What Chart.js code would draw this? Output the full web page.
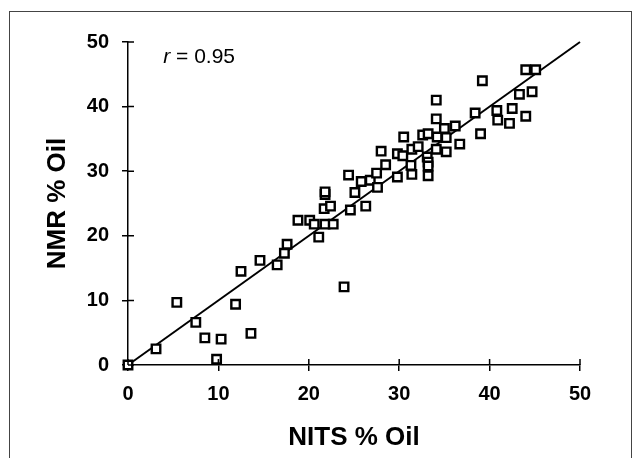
<!DOCTYPE html>
<html>
<head>
<meta charset="utf-8">
<script src="https://cdn.jsdelivr.net/npm/chart.js@4"></script>
<style>
    body { margin: 0; background: #fff; }
    #wrap { position: relative; width: 639px; height: 458px; overflow: hidden; }
    #frame { position: absolute; left: 9px; top: 11px; width: 621px; height: 460px; border: 1px solid #444; }
    canvas { position: absolute; left: 0; top: 0; }
</style>
</head>
<body>
<div id="wrap">
    <div id="frame"></div>
    <canvas id="chart" width="639" height="458"></canvas>
</div>
<script>
// NITS vs NMR oil content (%)
const nitsOil = [
    0, 3.1, 5.4, 7.5, 8.5, 9.8, 10.3, 11.9, 12.5, 13.6,
    14.6, 16.5, 17.3, 17.6, 18.8, 20.1, 20.6, 21.1, 21.8, 21.7,
    21.8, 21.8, 22.4, 22.7, 23.9, 24.4, 24.6, 25.1, 25.8, 26.3,
    26.8, 27.5, 27.6, 28.0, 28.5, 29.8, 29.8, 30.4, 30.5, 31.3,
    31.4, 31.4, 32.1, 32.6, 33.2, 33.1, 33.2, 33.2, 33.2, 34.1,
    34.1, 34.2, 34.1, 35.0, 35.2, 35.2, 36.2, 36.7, 38.4, 39.0,
    39.2, 40.8, 40.9, 42.2, 42.5, 43.3, 44.0, 44.0, 44.7, 45.1
];
const nmrOil = [
    0, 2.5, 9.7, 6.6, 4.2, 0.9, 4.0, 9.4, 14.5, 4.9,
    16.2, 15.5, 17.3, 18.7, 22.4, 22.4, 21.8, 19.8, 21.8, 24.2,
    26.4, 26.8, 24.6, 21.8, 12.1, 29.4, 24.0, 26.7, 28.4, 24.6,
    28.6, 29.7, 27.5, 33.1, 31.0, 29.1, 32.7, 32.4, 35.3, 30.9,
    29.5, 33.4, 33.8, 35.6, 35.8, 32.2, 31.4, 30.8, 29.3, 41.0,
    38.1, 35.3, 33.4, 36.6, 35.2, 33.0, 37.0, 34.2, 39.0, 35.8,
    44.0, 39.4, 37.9, 37.4, 39.7, 41.9, 38.5, 45.7, 42.3, 45.7
];
// fitted line end points
const fitX = [0, 50];
const fitY = [0, 50];
const axisTicks = [0, 10, 20, 30, 40, 50];
const rLabel = 'r = 0.95';

const fontFamily = "'Liberation Sans', Arial, sans-serif";

const points = nitsOil.map((x, i) => ({ x: x, y: nmrOil[i] }));
const fitLine = fitX.map((x, i) => ({ x: x, y: fitY[i] }));

// ticks crossing the axis lines, and the r label
const extrasPlugin = {
    id: 'extras',
    afterDraw(chart) {
        const ctx = chart.ctx;
        const area = chart.chartArea;
        const xs = chart.scales.x;
        const ys = chart.scales.y;
        ctx.save();
        ctx.strokeStyle = '#000';
        ctx.lineWidth = 1.5;
        ctx.beginPath();
        axisTicks.forEach(v => {
            const px = xs.getPixelForValue(v);
            ctx.moveTo(px, area.bottom);
            ctx.lineTo(px, area.bottom - 6);
            const py = ys.getPixelForValue(v);
            ctx.moveTo(area.left, py);
            ctx.lineTo(area.left + 6, py);
        });
        ctx.stroke();

        // r = 0.95 label with italic r
        const lx = xs.getPixelForValue(3.9);
        const ly = ys.getPixelForValue(47.7);
        ctx.fillStyle = '#000';
        ctx.textBaseline = 'middle';
        ctx.textAlign = 'left';
        ctx.font = 'italic 21px ' + fontFamily;
        const r = rLabel.slice(0, 1);
        ctx.fillText(r, lx, ly);
        const w = ctx.measureText(r).width;
        ctx.font = '21px ' + fontFamily;
        ctx.fillText(rLabel.slice(1), lx + w, ly);
        ctx.restore();
    }
};

const ctx = document.getElementById('chart').getContext('2d');
new Chart(ctx, {
    type: 'scatter',
    data: {
        datasets: [
            {
                label: 'Samples',
                data: points,
                pointStyle: 'rect',
                pointRadius: 6,
                pointBorderWidth: 2.4,
                borderColor: '#000',
                backgroundColor: '#fff',
                clip: false
            },
            {
                type: 'line',
                label: 'Fit',
                data: fitLine,
                borderColor: '#000',
                borderWidth: 2,
                pointRadius: 0,
                fill: false,
                clip: false
            }
        ]
    },
    options: {
        responsive: false,
        animation: false,
        devicePixelRatio: 1,
        layout: { padding: { top: 42, right: 59, left: 0, bottom: 0 } },
        plugins: {
            legend: { display: false },
            tooltip: { enabled: false }
        },
        scales: {
            x: {
                type: 'linear',
                min: 0,
                max: 50,
                afterFit: scale => { scale.height = 93; },
                afterBuildTicks: scale => { scale.ticks = axisTicks.map(v => ({ value: v })); },
                ticks: {
                    color: '#000',
                    padding: 11,
                    font: { family: fontFamily, size: 20, weight: 'bold', lineHeight: 1.2 }
                },
                grid: { drawOnChartArea: false, tickLength: 6, color: '#000', lineWidth: 1.5 },
                border: { color: '#000', width: 1.5 },
                title: {
                    display: true,
                    text: 'NITS % Oil',
                    color: '#000',
                    padding: { top: 0, bottom: 5 },
                    font: { family: fontFamily, size: 26, weight: 'bold', lineHeight: 1.2 }
                }
            },
            y: {
                type: 'linear',
                min: 0,
                max: 50,
                afterFit: scale => { scale.width = 128; },
                afterBuildTicks: scale => { scale.ticks = axisTicks.map(v => ({ value: v })); },
                ticks: {
                    color: '#000',
                    padding: 13,
                    font: { family: fontFamily, size: 20, weight: 'bold', lineHeight: 1.2 }
                },
                grid: { drawOnChartArea: false, tickLength: 6, color: '#000', lineWidth: 1.5 },
                border: { color: '#000', width: 1.5 },
                title: {
                    display: true,
                    text: 'NMR % Oil',
                    color: '#000',
                    padding: { top: 42, bottom: 0 },
                    font: { family: fontFamily, size: 26, weight: 'bold', lineHeight: 1.2 }
                }
            }
        }
    },
    plugins: [extrasPlugin]
});
</script>
</body>
</html>
